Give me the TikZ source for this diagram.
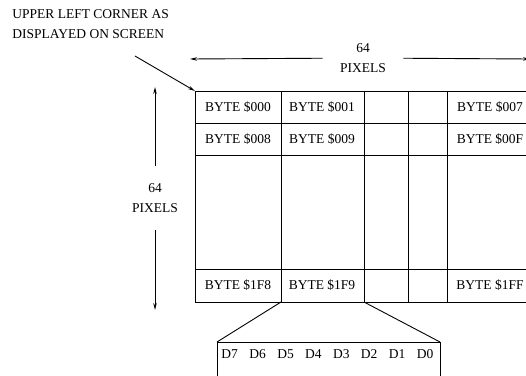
\documentclass[tikz,border=0pt]{standalone}
\usepackage{fontspec}
\setmainfont{Liberation Serif}
\usetikzlibrary{arrows.meta}
\tikzset{
    tip/.style={-{Stealth[length=7pt,width=3.5pt]}},
    lbl/.style={inner sep=0pt,align=center}
}
\begin{document}
\begin{tikzpicture}[x=1pt,y=-1pt,line width=0.9pt,font=\fontsize{13.5}{20}\selectfont]
    \useasboundingbox (0,0) rectangle (526,375);
    \clip (0,0) rectangle (526,375);
    % corner label and pointer
    \node[lbl,align=left,anchor=north west] (note) at (12,9) {UPPER LEFT CORNER AS\\DISPLAYED ON SCREEN};
    \coordinate (ptr) at (135,56);
    \coordinate (corner) at (195,91);
    \draw[tip] (ptr) -- (corner);
    % width
    \node[lbl,minimum width=80pt] (wlab) at (363,58) {64\\PIXELS};
    \coordinate (wl) at (190,59);
    \coordinate (wr) at (530,59);
    \draw[tip] (wlab) -- (wl);
    \draw[tip] (wlab) -- (wr);
    % height
    \node[lbl,minimum height=64pt] (hlab) at (155,198) {64\\PIXELS};
    \coordinate (ht) at (155,87);
    \coordinate (hb) at (155,310);
    \draw[tip] (hlab) -- (ht);
    \draw[tip] (hlab) -- (hb);
    % screen grid
    \foreach \y in {91,123,155,269,302}
        \draw (195,\y) -- (540,\y);
    \foreach \x in {195,281,364,408,447}
        \draw (\x,91) -- (\x,302);
    \node (b000) at (238,107) {BYTE \$000};
    \node (b001) at (322,107) {BYTE \$001};
    \node (b007) at (490,107) {BYTE \$007};
    \node (b008) at (238,139) {BYTE \$008};
    \node (b009) at (322,139) {BYTE \$009};
    \node (b00f) at (490,139) {BYTE \$00F};
    \node (b1f8) at (238,285) {BYTE \$1F8};
    \node (b1f9) at (322,285) {BYTE \$1F9};
    \node (b1ff) at (490,285) {BYTE \$1FF};
    % bits of one byte
    \coordinate (sl) at (281,302);
    \coordinate (sr) at (364,302);
    \coordinate (bl) at (217,342);
    \coordinate (br) at (440,342);
    \draw (sl) -- (bl);
    \draw (sr) -- (br);
    \draw (bl) rectangle (br |- 0,400);
    \foreach \i in {0,...,7}
        \node (d\i) at ({425-27.9*\i},354) {D\i};
\end{tikzpicture}
\end{document}
